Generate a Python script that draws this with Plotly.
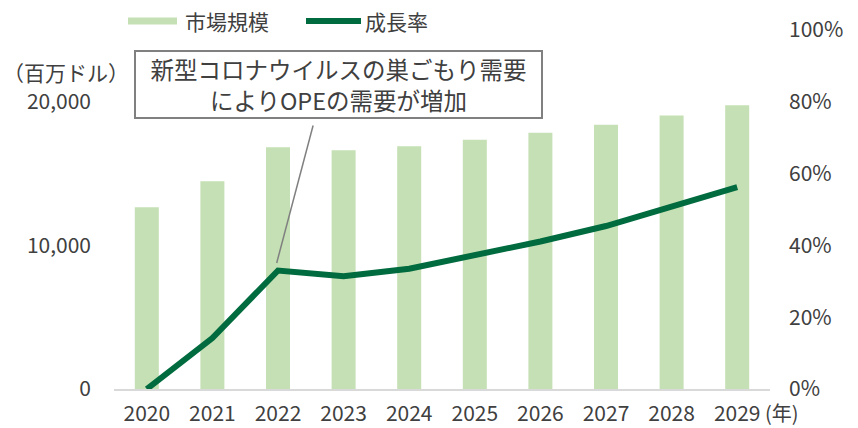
import plotly.graph_objects as go

# ---- data ----
years = [2020, 2021, 2022, 2023, 2024, 2025, 2026, 2027, 2028, 2029]
market_size = [12650, 14470, 16840, 16630, 16900, 17350, 17840, 18400, 19050, 19760]  # 百万ドル
growth_rate = [0.0, 0.142, 0.330, 0.314, 0.335, 0.372, 0.411, 0.454, 0.507, 0.562]
left_ticks = [0, 10000, 20000]
left_tick_text = ["0", "10,000", "20,000"]
right_ticks = [0, 0.2, 0.4, 0.6, 0.8, 1.0]
right_tick_text = ["0%", "20%", "40%", "60%", "80%", "100%"]
series_names = ["市場規模", "成長率"]
note_lines = ["新型コロナウイルスの巣ごもり需要", "によりOPEの需要が増加"]
unit_left = "（百万ドル）"
unit_x = "(年)"

# ---- layout geometry (body margin removed via post_script) ----
W, H = 858, 428
ML, MT = 114, 30
MR = W - 770
MB = H - 389
PW, PH = W - ML - MR, H - MT - MB

def px(x):
    """screen x -> paper x"""
    return (x - ML) / PW

def py(y):
    """screen y -> paper y"""
    return (H - MB - y) / PH

BAR_COLOR = "#C5E0B4"
LINE_COLOR = "#006B3F"
TEXT_COLOR = "#404040"
FONT = "Noto Sans CJK JP"
FS = 21

fig = go.Figure()
fig.add_trace(go.Bar(
    x=years, y=market_size, name=series_names[0],
    marker=dict(color=BAR_COLOR, line=dict(width=0)),
    yaxis="y", showlegend=False,
))
fig.add_trace(go.Scatter(
    x=years, y=growth_rate, name=series_names[1], mode="lines",
    line=dict(color=LINE_COLOR, width=6),
    yaxis="y2", cliponaxis=False, showlegend=False,
))

shapes = [
    # leader line from note box to the 2022 point
    dict(type="line", xref="x", yref="y2", x0=2022.535, y0=0.734, x1=2021.98, y1=0.351,
         line=dict(color="#808080", width=1.5)),
    # legend swatches
    dict(type="rect", xref="paper", yref="paper", x0=px(128), x1=px(177), y0=py(24.5), y1=py(17.5),
         fillcolor=BAR_COLOR, line=dict(width=0)),
    dict(type="line", xref="paper", yref="paper", x0=px(306), x1=px(361), y0=py(21), y1=py(21),
         line=dict(color=LINE_COLOR, width=6)),
]

annotations = [
    dict(text="<br>".join(note_lines), xref="paper", yref="paper", x=px(338.5), y=py(84.5),
         xanchor="center", yanchor="middle", showarrow=False, align="center",
         font=dict(size=23.5, color=TEXT_COLOR, family=FONT),
         bordercolor="#808080", borderwidth=2, borderpad=0, bgcolor="white",
         width=405, height=65),
    dict(text=unit_left, xref="paper", yref="paper", x=px(131), y=py(72),
         xanchor="right", yanchor="middle", showarrow=False,
         font=dict(size=FS, color=TEXT_COLOR, family=FONT)),
    dict(text=unit_x, xref="paper", yref="paper", x=px(763), y=py(412.5),
         xanchor="left", yanchor="middle", showarrow=False,
         font=dict(size=20, color=TEXT_COLOR, family=FONT)),
    dict(text=series_names[0], xref="paper", yref="paper", x=px(183), y=py(21),
         xanchor="left", yanchor="middle", showarrow=False,
         font=dict(size=FS, color=TEXT_COLOR, family=FONT)),
    dict(text=series_names[1], xref="paper", yref="paper", x=px(363), y=py(21),
         xanchor="left", yanchor="middle", showarrow=False,
         font=dict(size=FS, color=TEXT_COLOR, family=FONT)),
]

fig.update_layout(
    width=W, height=H,
    margin=dict(l=ML, r=MR, t=MT, b=MB, autoexpand=False),
    paper_bgcolor="white", plot_bgcolor="white",
    font=dict(family=FONT, size=FS, color=TEXT_COLOR),
    bargap=0.634,
    showlegend=False,
    hovermode=False,
    xaxis=dict(
        range=[2019.5, 2029.5], tickmode="array", tickvals=years,
        ticktext=[str(y) for y in years],
        showgrid=False, zeroline=False,
        showline=True, linecolor="#D9D9D9", linewidth=2,
        ticks="", ticklabelstandoff=5,
        tickfont=dict(size=FS, color=TEXT_COLOR, family=FONT),
    ),
    yaxis=dict(
        range=[0, 25000], tickmode="array", tickvals=left_ticks, ticktext=left_tick_text,
        showgrid=False, zeroline=False, showline=False, ticks="",
        ticklabelstandoff=22,
        tickfont=dict(size=FS, color=TEXT_COLOR, family=FONT),
    ),
    yaxis2=dict(
        range=[0, 1], overlaying="y", side="right", anchor="x",
        tickmode="array", tickvals=right_ticks, ticktext=right_tick_text,
        showgrid=False, zeroline=False, showline=False, ticks="",
        ticklabelstandoff=18,
        tickfont=dict(size=FS, color=TEXT_COLOR, family=FONT),
    ),
    shapes=shapes,
    annotations=annotations,
)

fig.write_html(
    "out.html",
    config={"displayModeBar": False, "staticPlot": True},
    post_script="document.body.style.margin='0';document.body.style.overflow='hidden';",
)
